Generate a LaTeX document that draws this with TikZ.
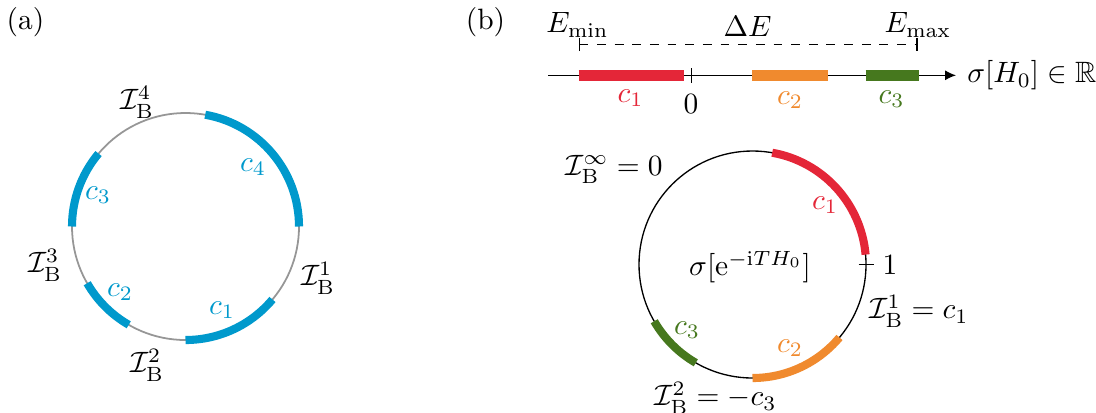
\documentclass[tikz,border=0pt]{standalone}
\usepackage{amssymb}
\usetikzlibrary{arrows.meta,calc}
\definecolor{cblue}{RGB}{0,153,204}
\definecolor{cred}{RGB}{228,38,56}
\definecolor{corange}{RGB}{240,138,46}
\definecolor{cgreen}{RGB}{70,120,30}
\definecolor{cgray}{RGB}{150,150,150}
\begin{document}
\begin{tikzpicture}[x=0.34pt,y=0.34pt,
  thinring/.style={line width=0.45pt},
  grayring/.style={cgray,line width=0.6pt},
  arcband/.style={line width=2.75pt},
  barband/.style={line width=3.7pt},
  lbl/.style={inner sep=0pt}]
\useasboundingbox (0,0) rectangle (1096,412);
% panel labels
\node[lbl] (pa) at (25.5,390) {(a)};
\node[lbl] (pb) at (485.5,390) {(b)};
% ---------------- (a)
\coordinate (A) at (185.5,185.5);
\draw[grayring] (A) circle[radius=113.5];
\draw[arcband,cblue] ($(A)+(0:113.5)$) arc[start angle=0,end angle=80,radius=113.5];
\draw[arcband,cblue] ($(A)+(140:113.5)$) arc[start angle=140,end angle=180,radius=113.5];
\draw[arcband,cblue] ($(A)+(210:113.5)$) arc[start angle=210,end angle=240,radius=113.5];
\draw[arcband,cblue] ($(A)+(270:113.5)$) arc[start angle=270,end angle=320,radius=113.5];
\node[lbl] (aI4) at (137,310) {$\mathcal{I}_\mathrm{B}^4$};
\node[lbl] (aI1) at (318,134) {$\mathcal{I}_\mathrm{B}^1$};
\node[lbl] (aI3) at (45,147) {$\mathcal{I}_\mathrm{B}^3$};
\node[lbl] (aI2) at (147,47) {$\mathcal{I}_\mathrm{B}^2$};
\node[lbl,text=cblue] (ac4) at (253,245) {$c_4$};
\node[lbl,text=cblue] (ac3) at (98,217) {$c_3$};
\node[lbl,text=cblue] (ac2) at (120,120) {$c_2$};
\node[lbl,text=cblue] (ac1) at (222,102) {$c_1$};
% ---------------- (b) axis
\coordinate (ax0) at (548,336.7);
\coordinate (ax1) at (956,336.7);
\draw[line width=0.45pt,-{Latex[length=3.7pt,width=3.4pt]}] (ax0) -- (ax1);
\node[lbl,anchor=west] (axl) at (966.7,336.5) {$\sigma[H_0]\in\mathbb{R}$};
\draw[barband,cred] (578.5,336.7) -- (684.3,336.7);
\draw[barband,corange] (752.3,336.7) -- (827.7,336.7);
\draw[barband,cgreen] (865.7,336.7) -- (918.5,336.7);
\coordinate (z0) at (691.7,336.7);
\draw[line width=0.45pt] ($(z0)+(0,7.2)$) -- ($(z0)+(0,-7.2)$);
\node[lbl,text=cred] (bx1) at (630.5,314) {$c_1$};
\node[lbl] (bx0) at (691,308) {$0$};
\node[lbl,text=corange] (bx2) at (790,312) {$c_2$};
\node[lbl,text=cgreen] (bx3) at (891.5,313) {$c_3$};
\coordinate (dl) at (578.5,367.7);
\coordinate (dr) at (917.5,367.7);
\draw[line width=0.4pt,dashed,{Bar[width=4.6pt]}-{Bar[width=4.6pt]}] (dl) -- (dr);
\node[lbl] (emin) at (577.5,387) {$E_\mathrm{min}$};
\node[lbl] (dE) at (747.5,386) {$\Delta E$};
\node[lbl] (emax) at (918,387) {$E_\mathrm{max}$};
% ---------------- (b) circle
\coordinate (B) at (752.5,147.5);
\draw[thinring] (B) circle[radius=113.5];
\draw[arcband,cred] ($(B)+(5:113.5)$) arc[start angle=5,end angle=80,radius=113.5];
\draw[arcband,corange] ($(B)+(270:113.5)$) arc[start angle=270,end angle=320,radius=113.5];
\draw[arcband,cgreen] ($(B)+(210:113.5)$) arc[start angle=210,end angle=240,radius=113.5];
\draw[line width=0.45pt] ($(B)+(0:106)$) -- ($(B)+(0:121)$);
\node[lbl] (one) at (890,147) {$1$};
\node[lbl] (sig) at (750,145) {$\sigma[\mathrm{e}^{-\mathrm{i}TH_0}]$};
\node[lbl] (Iinf) at (614,243) {$\mathcal{I}_\mathrm{B}^\infty=0$};
\node[lbl] (Ib1) at (919,101) {$\mathcal{I}_\mathrm{B}^1=c_1$};
\node[lbl] (Ib2) at (715.5,14) {$\mathcal{I}_\mathrm{B}^2=-c_3$};
\node[lbl,text=cred] (bc1) at (825,207) {$c_1$};
\node[lbl,text=corange] (bc2) at (790,64) {$c_2$};
\node[lbl,text=cgreen] (bc3) at (687,82) {$c_3$};
\end{tikzpicture}
\end{document}
